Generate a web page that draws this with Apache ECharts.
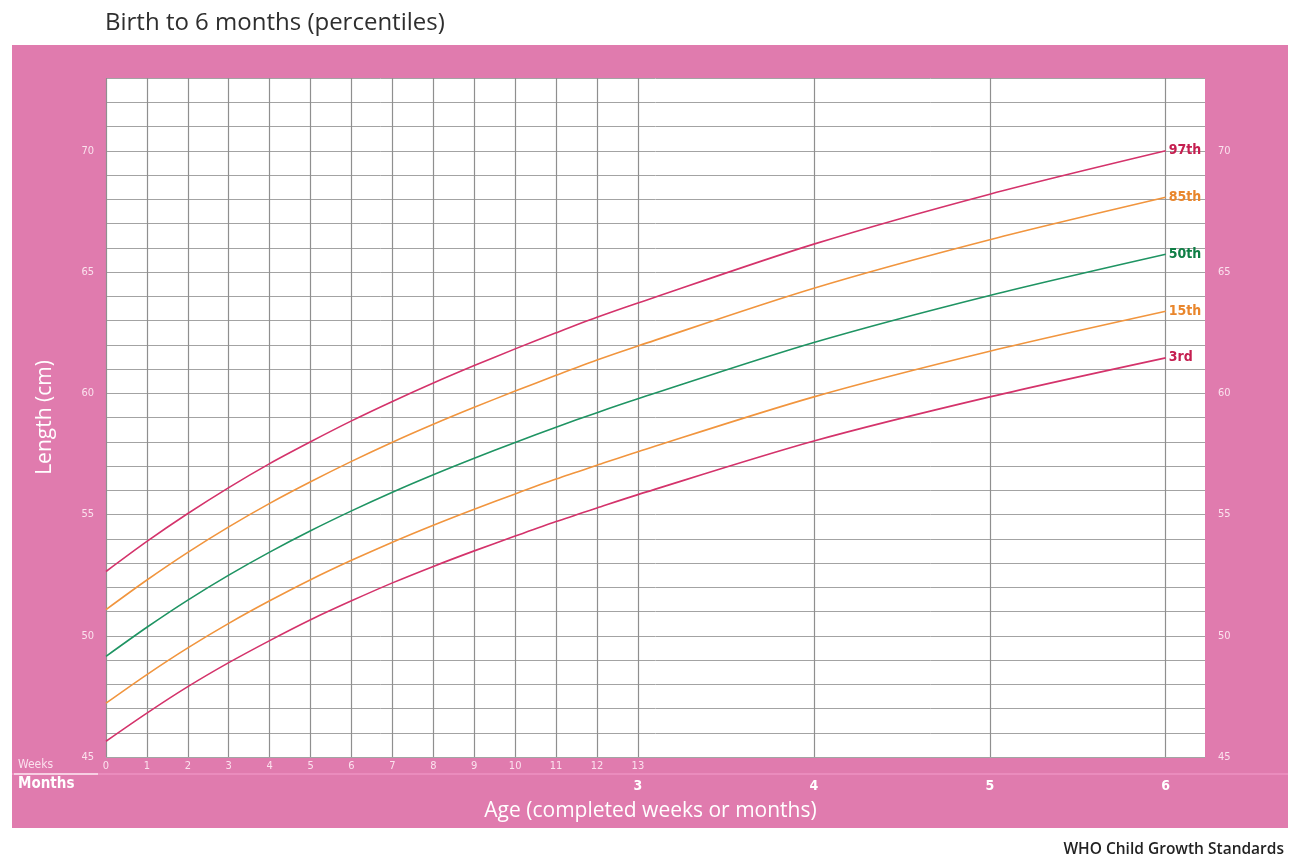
<!DOCTYPE html>
<html>
<head>
<meta charset="utf-8">
<script src="https://cdn.jsdelivr.net/npm/echarts@6/dist/echarts.min.js"></script>
<style>
html,body{margin:0;padding:0;background:#fff;}
#c{width:1289px;height:859px;}
</style>
</head>
<body>
<div id="c"></div>
<script>
// ---- data ----
const weekTicks = [0,1,2,3,4,5,6,7,8,9,10,11,12,13];
const monthPos = [13, 17.3, 21.6, 25.9];     // x position (in weeks) of month marks 3..6
const monthLabels = ['3','4','5','6'];
const ageX = [0,1,2,3,4,5,6,7,8,9,10,11,12,13,17.3,21.6,25.9];
const p97 = [52.65,53.89,55.04,56.11,57.10,58.00,58.86,59.66,60.42,61.14,61.83,62.49,63.13,63.72,66.15,68.21,70.00];
const p85 = [51.08,52.30,53.44,54.49,55.46,56.35,57.19,57.98,58.72,59.42,60.09,60.74,61.37,61.95,64.33,66.33,68.08];
const p50 = [49.15,50.35,51.47,52.50,53.45,54.33,55.15,55.92,56.64,57.32,57.97,58.60,59.20,59.77,62.09,64.03,65.73];
const p15 = [47.22,48.40,49.50,50.51,51.44,52.31,53.11,53.86,54.56,55.22,55.85,56.46,57.03,57.59,59.85,61.73,63.38];
const p3  = [45.65,46.81,47.90,48.89,49.80,50.66,51.44,52.18,52.86,53.50,54.11,54.71,55.27,55.82,58.03,59.85,61.46];
const seriesNames = ['97th','85th','50th','15th','3rd'];
const yLabelValues = [45,50,55,60,65,70];

const PINK = '#e07bae';
const LBL = '#fbe2ee';
const FONT = '"Open Sans", "Noto Sans", sans-serif';
const NARROW = '"Liberation Sans Narrow", "DejaVu Sans Condensed", "Open Sans", sans-serif';

const pair = arr => arr.map((v,i)=>[ageX[i], v]);
const vLines = weekTicks.concat(monthPos.slice(1));

function curve(name, arr, color, lblColor){
  return {
    name, type:'line', data: pair(arr), z: 5,
    smooth: 0.3,
    symbol: 'none',
    lineStyle: {color, width: 1.6},
    endLabel: {show:true, formatter: '{a}', color: lblColor, fontFamily: NARROW,
      fontWeight: 'bold', fontSize: 14, distance: 3},
    silent: true
  };
}

const chart = echarts.init(document.getElementById('c'), null, {renderer:'canvas'});
chart.setOption({
  backgroundColor: '#ffffff',
  animation: false,
  title: [
    {text: 'Birth to 6 months (percentiles)', left: 100, top: 6,
     textStyle:{fontFamily: FONT, fontSize: 24, fontWeight: 'normal', color: '#2e2e2e'}},
    {text: 'WHO Child Growth Standards', right: 0, top: 837,
     textStyle:{fontFamily: FONT, fontSize: 15.5, fontWeight: 600, color: '#222222'}}
  ],
  graphic: [
    {type:'rect', z: -100, shape:{x:12, y:45, width:1276, height:783}, style:{fill: PINK}, silent:true},
    {type:'line', z: -99, shape:{x1:12, y1:774, x2:1288, y2:774}, style:{stroke:'#ee92c2', lineWidth:1.5}, silent:true},
    {type:'line', z: -98, shape:{x1:14, y1:774, x2:98, y2:774}, style:{stroke:'#fbe6f0', lineWidth:1.5}, silent:true},
    {type:'text', left: 18, top: 759, style:{text:'Weeks', fill: LBL, font: '12px ' + NARROW}, silent:true},
    {type:'text', left: 18, top: 777, style:{text:'Months', fill: '#ffffff', font: 'bold 15px ' + NARROW}, silent:true}
  ],
  grid: {left: 106, top: 78, width: 1099, height: 679, show: true, backgroundColor: '#ffffff', borderWidth: 0},
  xAxis: [
    {type:'value', min: 0, max: 26.86, position:'bottom',
     axisLine:{show:false}, axisTick:{show:false}, splitLine:{show:false},
     axisLabel:{customValues: weekTicks, formatter: v => String(v), color: LBL,
       fontFamily: NARROW, fontSize: 11, margin: 4}},
    {type:'value', min: 0, max: 26.86, position:'bottom',
     axisLine:{show:false}, axisTick:{show:false}, splitLine:{show:false},
     axisLabel:{customValues: monthPos, formatter: v => monthLabels[monthPos.indexOf(v)] || '',
       color:'#ffffff', fontFamily: NARROW, fontWeight:'bold', fontSize: 14, margin: 22},
     name: 'Age (completed weeks or months)', nameLocation:'middle', nameGap: 44,
     nameTextStyle:{color:'#ffffff', fontFamily: FONT, fontSize: 21, padding:[0,10,0,0]}}
  ],
  yAxis: [
    {type:'value', min: 45, max: 73, interval: 1, position:'left',
     axisLine:{show:false}, axisTick:{show:false},
     splitLine:{show:true, lineStyle:{color:'#a3a3a3', width:1}},
     axisLabel:{customValues: yLabelValues, color: LBL, fontFamily: NARROW, fontSize: 11, margin: 12},
     name:'Length (cm)', nameLocation:'middle', nameGap: 50, nameRotate: 90,
     nameTextStyle:{color:'#ffffff', fontFamily: FONT, fontSize: 21}},
    {type:'value', min: 45, max: 73, interval: 1, position:'right',
     axisLine:{show:false}, axisTick:{show:false}, splitLine:{show:false},
     axisLabel:{customValues: yLabelValues, color: LBL, fontFamily: NARROW, fontSize: 11, margin: 13}}
  ],
  series: [
    {type:'line', data: [], z: 1, silent: true,
     markLine:{silent:true, symbol:['none','none'], label:{show:false},
       lineStyle:{color:'#8f8f8f', width:1.2, type:'solid'},
       emphasis:{disabled:true},
       data: vLines.map(v=>({xAxis: v}))}},
    curve(seriesNames[0], p97, '#d4336b', '#c51f50'),
    curve(seriesNames[1], p85, '#f1953e', '#e9862c'),
    curve(seriesNames[2], p50, '#1f9463', '#0f7e45'),
    curve(seriesNames[3], p15, '#f1953e', '#e9862c'),
    curve(seriesNames[4], p3,  '#d4336b', '#c51f50')
  ]
});
</script>
</body>
</html>
